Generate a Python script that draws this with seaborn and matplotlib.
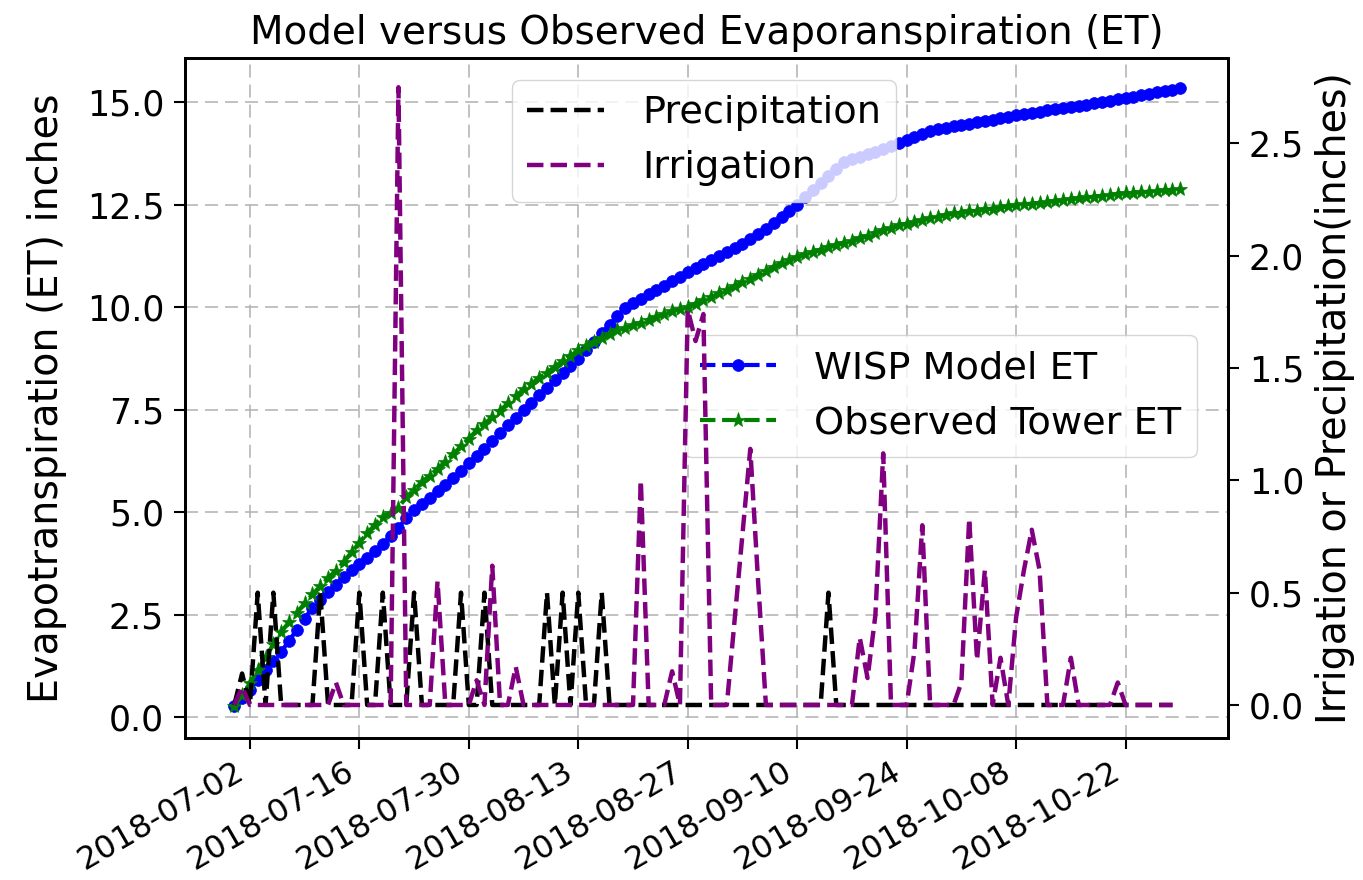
import numpy as np
import pandas as pd
import matplotlib
matplotlib.use("Agg")
import matplotlib.pyplot as plt
import matplotlib.dates as mdates
import seaborn as sns

# ---------------- data ----------------
start_date = "2018-06-30"

wisp_et = [
    0.27, 0.47, 0.68, 0.92, 1.15, 1.37, 1.60, 1.87, 2.14, 2.41,
    2.68, 2.87, 3.05, 3.24, 3.43, 3.60, 3.75, 3.90, 4.05, 4.22,
    4.43, 4.63, 4.86, 5.06, 5.21, 5.36, 5.52, 5.67, 5.84, 6.02,
    6.20, 6.38, 6.55, 6.74, 6.93, 7.12, 7.31, 7.50, 7.68, 7.86,
    8.04, 8.22, 8.40, 8.58, 8.75, 8.95, 9.15, 9.37, 9.58, 9.80,
    9.98, 10.10, 10.21, 10.32, 10.43, 10.53, 10.64, 10.75, 10.85, 10.95,
    11.05, 11.15, 11.25, 11.35, 11.45, 11.55, 11.66, 11.79, 11.92, 12.05,
    12.20, 12.35, 12.50, 12.68, 12.85, 13.03, 13.20, 13.38, 13.55, 13.61,
    13.66, 13.73, 13.80, 13.87, 13.93, 14.00, 14.07, 14.15, 14.23, 14.30,
    14.34, 14.38, 14.42, 14.45, 14.48, 14.52, 14.55, 14.58, 14.62, 14.65,
    14.68, 14.71, 14.74, 14.77, 14.80, 14.83, 14.85, 14.88, 14.91, 14.94,
    14.98, 15.01, 15.04, 15.07, 15.10, 15.14, 15.17, 15.21, 15.24, 15.28,
    15.31, 15.35,
]

tower_et = [
    0.27, 0.55, 0.83, 1.16, 1.47, 1.78, 2.09, 2.32, 2.55, 2.78,
    3.00, 3.20, 3.40, 3.58, 3.79, 4.03, 4.26, 4.49, 4.70, 4.90,
    4.99, 5.12, 5.37, 5.55, 5.74, 5.90, 6.06, 6.24, 6.42, 6.61,
    6.80, 7.00, 7.16, 7.32, 7.48, 7.66, 7.83, 8.00, 8.14, 8.28,
    8.41, 8.55, 8.69, 8.82, 8.95, 9.05, 9.15, 9.25, 9.35, 9.44,
    9.50, 9.56, 9.63, 9.70, 9.77, 9.83, 9.90, 9.96, 10.02, 10.09,
    10.17, 10.25, 10.34, 10.43, 10.52, 10.61, 10.70, 10.80, 10.89, 10.99,
    11.08, 11.16, 11.23, 11.29, 11.35, 11.41, 11.47, 11.52, 11.58, 11.63,
    11.69, 11.75, 11.82, 11.88, 11.94, 12.00, 12.04, 12.08, 12.12, 12.17,
    12.21, 12.25, 12.29, 12.31, 12.34, 12.36, 12.39, 12.41, 12.44, 12.46,
    12.49, 12.51, 12.53, 12.55, 12.57, 12.59, 12.61, 12.63, 12.66, 12.68,
    12.70, 12.72, 12.74, 12.76, 12.78, 12.79, 12.81, 12.82, 12.84, 12.85,
    12.87, 12.88,
]

precipitation = [
    0, 0.14, 0, 0.5, 0, 0.5, 0, 0, 0, 0,
    0, 0.5, 0, 0, 0, 0, 0.5, 0, 0, 0.5,
    0, 0, 0, 0.5, 0, 0, 0, 0, 0, 0.5,
    0, 0, 0.5, 0, 0, 0, 0, 0, 0, 0,
    0.5, 0, 0.5, 0, 0.5, 0, 0, 0.5, 0, 0,
    0, 0, 0, 0, 0, 0, 0, 0, 0, 0,
    0, 0, 0, 0, 0, 0, 0, 0, 0, 0,
    0, 0, 0, 0, 0, 0, 0.5, 0, 0, 0,
    0, 0, 0, 0, 0, 0, 0, 0, 0, 0,
    0, 0, 0, 0, 0, 0, 0, 0, 0, 0,
    0, 0, 0, 0, 0, 0, 0, 0, 0, 0,
    0, 0, 0, 0, 0, 0, 0, 0, 0, 0,
    0,
]

irrigation = [
    0, 0.08, 0, 0, 0, 0, 0, 0, 0, 0,
    0, 0, 0, 0.10, 0, 0, 0, 0, 0, 0,
    0, 2.75, 0, 0, 0, 0, 0.55, 0, 0, 0,
    0, 0.11, 0, 0.62, 0, 0, 0.17, 0, 0, 0,
    0, 0, 0, 0, 0, 0, 0, 0, 0, 0,
    0, 0, 1.00, 0, 0, 0, 0.15, 0, 1.76, 1.62,
    1.74, 0, 0, 0, 0.38, 0.76, 1.14, 0.55, 0, 0,
    0, 0, 0, 0, 0, 0, 0, 0, 0, 0,
    0.30, 0.12, 0.40, 1.12, 0, 0, 0, 0.24, 0.80, 0,
    0, 0, 0, 0.10, 0.83, 0.20, 0.60, 0, 0.21, 0,
    0.39, 0.60, 0.78, 0.60, 0, 0, 0, 0.21, 0, 0,
    0, 0, 0, 0.10, 0, 0, 0, 0, 0, 0,
    0,
]

xtick_labels = ["2018-07-02", "2018-07-16", "2018-07-30", "2018-08-13",
                "2018-08-27", "2018-09-10", "2018-09-24", "2018-10-08",
                "2018-10-22"]
left_ticks = [0.0, 2.5, 5.0, 7.5, 10.0, 12.5, 15.0]
right_ticks = [0.0, 0.5, 1.0, 1.5, 2.0, 2.5]

et_dates = pd.date_range(start_date, periods=len(wisp_et), freq="D")
water_dates = pd.date_range(start_date, periods=len(precipitation), freq="D")

# ---------------- style ----------------
sns.set_style("ticks")
plt.rcParams["font.family"] = ["DejaVu Sans"]
for key in ("text.color", "axes.labelcolor", "xtick.color", "ytick.color",
            "axes.edgecolor"):
    plt.rcParams[key] = "black"
plt.rcParams["axes.linewidth"] = 2.0
plt.rcParams["xtick.major.width"] = 1.5
plt.rcParams["ytick.major.width"] = 1.5
plt.rcParams["xtick.major.size"] = 8
plt.rcParams["ytick.major.size"] = 8
plt.rcParams["xtick.direction"] = "out"
plt.rcParams["ytick.direction"] = "out"

W, H = 1363, 880
fig = plt.figure(figsize=(W / 100, H / 100), dpi=100)
L, R, T, B = 185, 1228, 58, 738
ax1 = fig.add_axes([L / W, (H - B) / H, (R - L) / W, (B - T) / H])
ax2 = ax1.twinx()

# ET lines (left axis)
sns.lineplot(x=et_dates, y=wisp_et, ax=ax1, color="blue", marker="o",
             markersize=8.5, markeredgecolor="blue", markeredgewidth=0.5,
             linestyle="--", linewidth=3, label="WISP Model ET", legend=False)
sns.lineplot(x=et_dates, y=tower_et, ax=ax1, color="green", marker="*",
             markersize=11, markeredgecolor="green", markeredgewidth=0.5,
             linestyle="--", linewidth=3, label="Observed Tower ET", legend=False)

# Water inputs (right axis)
sns.lineplot(x=water_dates, y=precipitation, ax=ax2, color="black",
             linestyle="--", linewidth=3.2, label="Precipitation", legend=False)
sns.lineplot(x=water_dates, y=irrigation, ax=ax2, color="purple",
             linestyle="--", linewidth=3.2, label="Irrigation", legend=False)

# axes limits / ticks
x0 = pd.Timestamp(start_date) - pd.Timedelta(days=6.3)
x1 = pd.Timestamp(start_date) + pd.Timedelta(days=127.1)
ax1.set_xlim(x0, x1)
ax1.set_ylim(-0.5, 16.08)
ax2.set_ylim(-0.147, 2.88)
ax1.set_xticks(pd.to_datetime(xtick_labels))
ax1.xaxis.set_major_formatter(mdates.DateFormatter("%Y-%m-%d"))
ax1.set_yticks(left_ticks)
ax1.set_yticklabels([f"{v:.1f}" for v in left_ticks])
ax2.set_yticks(right_ticks)
ax2.set_yticklabels([f"{v:.1f}" for v in right_ticks])

for lab in ax1.get_xticklabels():
    lab.set_rotation(30)
    lab.set_ha("right")

ax1.tick_params(axis="x", labelsize=23, pad=5, colors="black")
ax1.tick_params(axis="y", labelsize=25, pad=7, colors="black")
ax2.tick_params(axis="y", labelsize=25, pad=7, colors="black")

ax1.grid(True, color="#b0b0b0", linestyle=(0, (8.5, 4.6)), linewidth=1.1)
ax2.grid(False)

for ax in (ax1, ax2):
    for s in ax.spines.values():
        s.set_visible(True)
        s.set_color("black")
        s.set_linewidth(2.0)

ax1.set_xlabel("")
ax1.set_ylabel("Evapotranspiration (ET) inches", fontsize=28.5, labelpad=14,
               color="black")
ax2.set_ylabel("Irrigation or Precipitation(inches)", fontsize=28.5, labelpad=8,
               color="black")
ax1.set_title("Model versus Observed Evaporanspiration (ET)", fontsize=28, pad=10,
              color="black")

# legends
leg1 = ax1.legend(loc="upper left", bbox_to_anchor=(0.479, 0.5926),
                  borderaxespad=0, fontsize=27.5, handletextpad=1.0,
                  framealpha=0.8, edgecolor="0.8", fancybox=True)
leg2 = ax2.legend(loc="upper left", bbox_to_anchor=(0.3135, 0.9676),
                  borderaxespad=0, fontsize=27.5, handletextpad=1.0,
                  framealpha=0.8, edgecolor="0.8", fancybox=True)
for leg in (leg1, leg2):
    for t in leg.get_texts():
        t.set_color("black")

fig.savefig("out.png", dpi=100)
